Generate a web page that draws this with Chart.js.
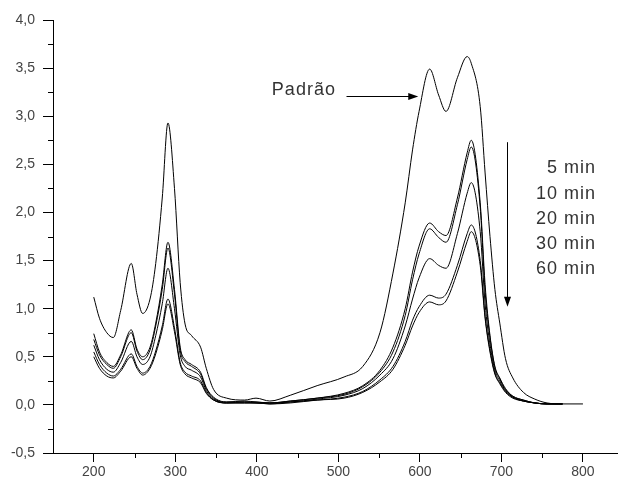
<!DOCTYPE html>
<html lang="pt">
<head>
    <meta charset="UTF-8">
    <title>Espectros UV-Vis</title>
    <style>
        * {
            margin: 0;
            padding: 0;
        }
        body {
            background: #fff;
        }
        #wrap {
            width: 618px;
            height: 480px;
        }
    </style>
    <script src="https://cdn.jsdelivr.net/npm/chart.js@4.4.0/dist/chart.umd.min.js"></script>
</head>
<body>
    <div id="wrap"><canvas id="spectra" width="618" height="480"></canvas></div>

    <script>
        // wavelength grid (nm) shared by all spectra
        const wavelengths = [200, 207, 216, 224, 233, 246, 253, 260, 269, 276, 284, 291, 299, 306, 312, 320, 331, 338, 347, 363,
                             385, 399, 416, 441, 474, 507, 530, 551, 567, 582, 591, 599, 612, 623, 632, 646, 658, 663, 674, 680,
                             686, 692, 698, 705, 714, 727, 741, 756, 775, 800];

        // absorbance values
        const padrao = [1.12, 0.90, 0.75, 0.70, 0.98, 1.47, 1.15, 0.95, 1.10, 1.47, 2.15, 2.93, 2.25, 1.27, 0.84, 0.72, 0.60, 0.38, 0.16, 0.07,
                        0.05, 0.07, 0.04, 0.10, 0.20, 0.29, 0.40, 0.75, 1.37, 2.10, 2.65, 3.05, 3.49, 3.22, 3.05, 3.40, 3.62, 3.55, 3.10, 2.41,
                        1.75, 1.20, 0.85, 0.48, 0.28, 0.13, 0.06, 0.02, 0.01, 0.01];
        const min5 = [0.74, 0.55, 0.44, 0.40, 0.52, 0.78, 0.58, 0.50, 0.60, 0.85, 1.25, 1.69, 1.20, 0.60, 0.47, 0.42, 0.34, 0.18, 0.08, 0.03,
                      0.04, 0.03, 0.02, 0.04, 0.07, 0.12, 0.20, 0.36, 0.60, 1.00, 1.38, 1.65, 1.89, 1.80, 1.76, 2.15, 2.62, 2.75, 2.10, 1.25,
                      0.72, 0.40, 0.28, 0.17, 0.09, 0.05, 0.02, 0.01, 0.01, null];
        const min10 = [0.68, 0.52, 0.42, 0.38, 0.50, 0.75, 0.56, 0.47, 0.57, 0.82, 1.20, 1.63, 1.15, 0.57, 0.45, 0.40, 0.32, 0.17, 0.07, 0.03,
                       0.03, 0.03, 0.02, 0.04, 0.07, 0.11, 0.19, 0.34, 0.55, 0.93, 1.30, 1.57, 1.83, 1.74, 1.69, 2.08, 2.55, 2.68, 2.05, 1.18,
                       0.70, 0.39, 0.27, 0.16, 0.09, 0.05, 0.02, 0.01, 0.01, null];
        const min20 = [0.62, 0.47, 0.37, 0.34, 0.44, 0.66, 0.50, 0.42, 0.50, 0.72, 1.05, 1.42, 1.00, 0.52, 0.40, 0.36, 0.29, 0.15, 0.06, 0.02,
                       0.03, 0.02, 0.02, 0.03, 0.06, 0.10, 0.17, 0.31, 0.48, 0.82, 1.10, 1.32, 1.52, 1.45, 1.42, 1.78, 2.20, 2.31, 1.80, 1.05,
                       0.63, 0.36, 0.25, 0.15, 0.08, 0.04, 0.02, 0.01, 0.01, null];
        const min30 = [0.55, 0.42, 0.33, 0.30, 0.37, 0.53, 0.40, 0.33, 0.40, 0.56, 0.82, 1.10, 0.80, 0.44, 0.34, 0.30, 0.25, 0.13, 0.05, 0.02,
                       0.02, 0.02, 0.01, 0.03, 0.05, 0.08, 0.14, 0.26, 0.40, 0.66, 0.88, 1.02, 1.14, 1.11, 1.15, 1.45, 1.78, 1.87, 1.50, 0.92,
                       0.57, 0.33, 0.23, 0.14, 0.08, 0.04, 0.02, 0.01, 0.01, null];
        const min60 = [0.50, 0.38, 0.30, 0.28, 0.35, 0.50, 0.38, 0.31, 0.38, 0.53, 0.78, 1.05, 0.76, 0.42, 0.32, 0.28, 0.23, 0.12, 0.05, 0.02,
                       0.02, 0.02, 0.01, 0.02, 0.05, 0.07, 0.13, 0.24, 0.37, 0.62, 0.82, 0.96, 1.07, 1.04, 1.08, 1.38, 1.70, 1.80, 1.45, 0.90,
                       0.55, 0.32, 0.22, 0.13, 0.07, 0.04, 0.02, 0.01, 0.01, null];

        const seriesNames = ['Padrão', '5 min', '10 min', '20 min', '30 min', '60 min'];
        const seriesValues = [padrao, min5, min10, min20, min30, min60];
        const timeLabels = ['5 min', '10 min', '20 min', '30 min', '60 min'];

        // axis ticks
        const xMajorTicks = [200, 300, 400, 500, 600, 700, 800];
        const xMinorTicks = [250, 350, 450, 550, 650, 750];
        const yMajorTicks = [-0.5, 0, 0.5, 1.0, 1.5, 2.0, 2.5, 3.0, 3.5, 4.0];
        const yMinorTicks = [-0.25, 0.25, 0.75, 1.25, 1.75, 2.25, 2.75, 3.25, 3.75];

        const labelFont = '"Liberation Sans", Arial, sans-serif';

        // short minor tick marks outside the axes
        const minorTicks = {
            id: 'minorTicks',
            afterDraw(chart) {
                const { ctx, chartArea, scales: { x, y } } = chart;
                ctx.save();
                ctx.strokeStyle = '#000';
                ctx.lineWidth = 1;
                ctx.beginPath();
                xMinorTicks.forEach(v => {
                    const px = Math.round(x.getPixelForValue(v)) + 0.5;
                    ctx.moveTo(px, chartArea.bottom);
                    ctx.lineTo(px, chartArea.bottom + 5);
                });
                yMinorTicks.forEach(v => {
                    const py = Math.round(y.getPixelForValue(v)) + 0.5;
                    ctx.moveTo(chartArea.left, py);
                    ctx.lineTo(chartArea.left - 5, py);
                });
                ctx.stroke();
                ctx.restore();
            }
        };

        // "Padrão" label, arrows and the time legend
        const notes = {
            id: 'notes',
            afterDraw(chart) {
                const { ctx, scales: { x, y } } = chart;
                ctx.save();
                ctx.fillStyle = '#333';
                ctx.strokeStyle = '#000';
                ctx.lineWidth = 1;
                ctx.font = '18px ' + labelFont;
                ctx.letterSpacing = '1px';
                ctx.textAlign = 'right';
                ctx.textBaseline = 'middle';

                ctx.fillText('Padrão', x.getPixelForValue(497), y.getPixelForValue(3.27));

                // horizontal arrow to the standard curve
                const ay = Math.round(y.getPixelForValue(3.21)) + 0.5;
                const ax0 = x.getPixelForValue(510);
                const ax1 = x.getPixelForValue(598);
                ctx.beginPath();
                ctx.moveTo(ax0, ay);
                ctx.lineTo(ax1 - 8, ay);
                ctx.stroke();
                ctx.fillStyle = '#000';
                ctx.beginPath();
                ctx.moveTo(ax1, ay);
                ctx.lineTo(ax1 - 10, ay - 3.5);
                ctx.lineTo(ax1 - 10, ay + 3.5);
                ctx.closePath();
                ctx.fill();

                // vertical arrow (time direction)
                const vx = Math.round(x.getPixelForValue(707)) + 0.5;
                const vy0 = y.getPixelForValue(2.73);
                const vy1 = y.getPixelForValue(1.02);
                ctx.beginPath();
                ctx.moveTo(vx, vy0);
                ctx.lineTo(vx, vy1 - 8);
                ctx.stroke();
                ctx.beginPath();
                ctx.moveTo(vx, vy1);
                ctx.lineTo(vx - 3.5, vy1 - 10);
                ctx.lineTo(vx + 3.5, vy1 - 10);
                ctx.closePath();
                ctx.fill();

                // time labels
                ctx.fillStyle = '#333';
                const labelY = [2.46, 2.19, 1.93, 1.67, 1.41];
                timeLabels.forEach((t, i) => {
                    ctx.fillText(t, x.getPixelForValue(816), y.getPixelForValue(labelY[i]));
                });
                ctx.restore();
            }
        };

        const ctx = document.getElementById('spectra').getContext('2d');
        new Chart(ctx, {
            type: 'line',
            data: {
                datasets: seriesValues.map((vals, i) => ({
                    label: seriesNames[i],
                    data: wavelengths.map((w, j) => ({ x: w, y: vals[j] })),
                    borderColor: '#000',
                    borderWidth: 1,
                    pointRadius: 0,
                    fill: false,
                    cubicInterpolationMode: 'monotone',
                    spanGaps: false
                }))
            },
            options: {
                responsive: false,
                animation: false,
                layout: {
                    padding: { top: 20, right: 0, left: 0, bottom: 0 }
                },
                plugins: {
                    legend: { display: false },
                    tooltip: { enabled: false }
                },
                scales: {
                    x: {
                        type: 'linear',
                        min: 150,
                        max: 843,
                        afterBuildTicks: s => { s.ticks = xMajorTicks.map(v => ({ value: v })); },
                        afterFit: s => { s.height = 27; },
                        grid: { drawOnChartArea: false, drawTicks: true, tickLength: 9, tickColor: '#000' },
                        border: { display: true, color: '#000', width: 1 },
                        ticks: {
                            color: '#444',
                            padding: 2,
                            maxRotation: 0,
                            font: { family: labelFont, size: 14 }
                        }
                    },
                    y: {
                        min: -0.5,
                        max: 4.0,
                        afterBuildTicks: s => { s.ticks = yMajorTicks.map(v => ({ value: v })); },
                        afterFit: s => { s.width = 53; },
                        grid: { drawOnChartArea: false, drawTicks: true, tickLength: 10, tickColor: '#000' },
                        border: { display: true, color: '#000', width: 1 },
                        ticks: {
                            color: '#444',
                            padding: 8,
                            font: { family: labelFont, size: 14 },
                            callback: v => v.toFixed(1).replace('.', ',')
                        }
                    }
                }
            },
            plugins: [minorTicks, notes]
        });
    </script>
</body>
</html>
